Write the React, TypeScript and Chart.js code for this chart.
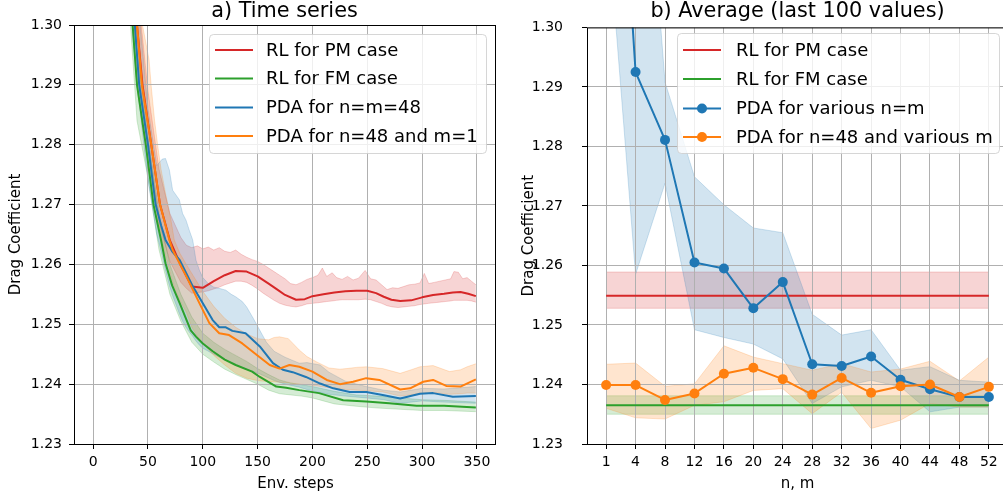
import React, { useEffect, useRef } from 'react';
import { Chart, registerables } from 'chart.js';
Chart.register(...registerables);

const FONT = "'DejaVu Sans', 'Liberation Sans', sans-serif";
const BLUE = '#1f77b4';
const ORANGE = '#ff7f0e';
const GREEN = '#2ca02c';
const RED = '#d62728';

// ---------------- a) Time series ----------------
const stepTicks = [0, 50, 100, 150, 200, 250, 300, 350];
const dragTicks = [1.23, 1.24, 1.25, 1.26, 1.27, 1.28, 1.29, 1.3];

const redSteps = [0, 10, 20, 30, 40, 45, 53, 61, 70, 80, 90, 100, 110, 120, 130, 140, 150, 160, 168, 175, 185, 193, 200, 210, 220, 230, 240, 250, 258, 265, 272, 280, 290, 300, 310, 320, 328, 335, 342, 349];
const redMean = [1.42, 1.39, 1.36, 1.33, 1.3, 1.29, 1.28, 1.27, 1.264, 1.2598, 1.2563, 1.2561, 1.2572, 1.2582, 1.2589, 1.2588, 1.258, 1.2568, 1.2558, 1.2549, 1.2541, 1.2542, 1.2547, 1.255, 1.2553, 1.2555, 1.2556, 1.2556, 1.2552, 1.2546, 1.2541, 1.2539, 1.254, 1.2545, 1.2549, 1.2551, 1.2553, 1.2554, 1.2551, 1.2547];

const greenSteps = [0, 10, 20, 30, 36, 40, 48, 55, 62, 66, 72, 79, 89, 94, 100, 109, 120, 130, 145, 152, 167, 176, 188, 206, 228, 249, 270, 295, 320, 349];
const greenMean = [1.4, 1.37, 1.345, 1.318, 1.3, 1.29, 1.28, 1.27, 1.264, 1.2602, 1.2565, 1.2535, 1.249, 1.2479, 1.2468, 1.2455, 1.2441, 1.2432, 1.2421, 1.2412, 1.2396, 1.2394, 1.239, 1.2385, 1.2373, 1.2371, 1.2368, 1.2364, 1.2364, 1.2361];

const blueSteps = [0, 10, 20, 30, 38, 42, 50, 57, 62, 66, 72, 79, 85, 91, 100, 109, 115, 121, 127, 139, 152, 164, 173, 182, 194, 207, 219, 234, 249, 264, 280, 298, 310, 328, 349];
const blueMean = [1.41, 1.38, 1.352, 1.322, 1.3, 1.29, 1.28, 1.27, 1.2665, 1.2641, 1.2622, 1.2607, 1.2585, 1.2563, 1.2535, 1.2507, 1.2495, 1.2495, 1.2489, 1.2485, 1.2463, 1.2435, 1.2424, 1.242, 1.2412, 1.2401, 1.2393, 1.2387, 1.2387, 1.2382, 1.2376, 1.2384, 1.2385, 1.2379, 1.238];

const orangeSteps = [0, 10, 20, 30, 40, 44.5, 53, 61, 69.5, 72.5, 85, 97, 106, 115, 124, 136, 149, 161, 170, 179, 188, 200, 213, 225, 237, 249, 261, 280, 289, 301, 310, 322, 335, 349];
const orangeMean = [1.42, 1.39, 1.36, 1.33, 1.3, 1.29, 1.28, 1.27, 1.2641, 1.2624, 1.258, 1.2535, 1.2502, 1.2485, 1.2482, 1.2468, 1.2449, 1.2432, 1.2426, 1.2432, 1.2429, 1.2421, 1.2407, 1.24, 1.2404, 1.241, 1.2407, 1.2391, 1.2393, 1.2404, 1.2407, 1.2397, 1.2396, 1.2408];

const redBandSteps = [0, 20, 30, 40, 50, 60, 70, 80, 85, 90, 95, 100, 105, 110, 115, 120, 125, 130, 135, 140, 145, 150, 155, 160, 165, 170, 175, 180, 185, 190, 195, 200, 205, 209, 213, 218, 222, 227, 232, 237, 242, 248, 253, 258, 263, 268, 273, 278, 283, 288, 293, 298, 302, 306, 311, 316, 321, 326, 329, 333, 337, 341, 345, 349];
const redUpper = [1.45, 1.375, 1.34, 1.307, 1.289, 1.276, 1.2685, 1.2645, 1.2632, 1.2628, 1.2631, 1.2626, 1.2629, 1.2624, 1.2628, 1.2622, 1.262, 1.2624, 1.2617, 1.2612, 1.2608, 1.2605, 1.26, 1.2594, 1.2588, 1.2582, 1.2576, 1.2568, 1.2566, 1.257, 1.2575, 1.2578, 1.2582, 1.2594, 1.258, 1.2586, 1.2578, 1.2575, 1.258, 1.2574, 1.2577, 1.259, 1.2576, 1.2574, 1.2566, 1.2558, 1.2561, 1.256, 1.2563, 1.2566, 1.2567, 1.2569, 1.2585, 1.2568, 1.257, 1.2572, 1.2574, 1.2576, 1.2588, 1.2587, 1.2576, 1.2578, 1.2572, 1.2566];
const redLower = [1.4, 1.345, 1.32, 1.294, 1.279, 1.267, 1.2605, 1.257, 1.256, 1.2552, 1.2553, 1.2554, 1.2556, 1.2559, 1.2562, 1.2566, 1.2569, 1.2572, 1.2572, 1.257, 1.2565, 1.2559, 1.2552, 1.2546, 1.254, 1.2535, 1.2532, 1.253, 1.2529, 1.2531, 1.2534, 1.2535, 1.2536, 1.2537, 1.2538, 1.2539, 1.254, 1.2541, 1.2541, 1.2541, 1.2541, 1.2542, 1.2541, 1.2538, 1.2535, 1.2531, 1.2529, 1.2528, 1.2529, 1.253, 1.2531, 1.2533, 1.2534, 1.2535, 1.2536, 1.2537, 1.2538, 1.2539, 1.254, 1.254, 1.254, 1.254, 1.2539, 1.2537];

const greenBandSteps = [0, 20, 30, 40, 50, 60, 70, 80, 90, 100, 110, 120, 130, 140, 150, 160, 170, 180, 190, 200, 220, 240, 260, 280, 300, 320, 349];
const greenUpper = [1.41, 1.355, 1.325, 1.296, 1.2815, 1.2685, 1.26, 1.255, 1.2512, 1.2485, 1.247, 1.2458, 1.2448, 1.2438, 1.2426, 1.2416, 1.2407, 1.2402, 1.2399, 1.2396, 1.2388, 1.2382, 1.238, 1.2377, 1.2374, 1.2373, 1.237];
const greenLower = [1.39, 1.335, 1.311, 1.284, 1.2745, 1.2625, 1.255, 1.2505, 1.247, 1.245, 1.2437, 1.2425, 1.2416, 1.2408, 1.24, 1.239, 1.2384, 1.2382, 1.238, 1.2377, 1.2367, 1.2363, 1.236, 1.2358, 1.2356, 1.2356, 1.2354];

const blueBandSteps = [0, 20, 30, 40, 50, 58, 63, 66, 69.5, 72.5, 78.6, 81.6, 84.7, 87.7, 90.8, 93.8, 97, 100, 105, 110, 115, 121, 126, 130, 136, 140, 146, 152, 158, 165, 175, 188, 195, 207, 215, 230, 249, 265, 280, 300, 320, 349];
const blueUpper = [1.43, 1.365, 1.332, 1.306, 1.286, 1.2765, 1.2776, 1.2777, 1.2758, 1.2724, 1.2708, 1.2685, 1.2674, 1.2657, 1.2641, 1.2607, 1.259, 1.2578, 1.2568, 1.2562, 1.256, 1.2557, 1.255, 1.2546, 1.2538, 1.2529, 1.251, 1.249, 1.247, 1.2455, 1.2445, 1.2435, 1.2436, 1.2432, 1.242, 1.2405, 1.2396, 1.239, 1.2387, 1.2393, 1.2392, 1.2396];
const blueLower = [1.39, 1.335, 1.312, 1.29, 1.274, 1.265, 1.2615, 1.259, 1.2565, 1.2548, 1.2518, 1.2505, 1.2495, 1.2487, 1.248, 1.2472, 1.2465, 1.246, 1.2455, 1.245, 1.2445, 1.244, 1.2436, 1.2432, 1.2428, 1.2425, 1.2421, 1.2417, 1.2412, 1.2406, 1.24, 1.2395, 1.2391, 1.2386, 1.2383, 1.238, 1.2377, 1.2374, 1.2368, 1.2372, 1.237, 1.2368];

const orangeBandSteps = [0, 20, 30, 40, 45, 51, 53, 56, 59, 62, 66, 71, 74, 79, 85, 90, 95, 100, 110, 120, 130, 140, 150, 160, 165, 170, 178, 188, 195, 204, 215, 225, 231, 240, 249, 264, 280, 290, 298, 310, 325, 335, 341, 349];
const orangeUpper = [1.44, 1.375, 1.345, 1.312, 1.3, 1.2942, 1.2897, 1.2841, 1.2797, 1.2758, 1.2719, 1.2674, 1.2641, 1.2619, 1.26, 1.2585, 1.257, 1.2555, 1.253, 1.251, 1.2495, 1.2484, 1.2476, 1.2474, 1.2478, 1.2479, 1.2476, 1.2457, 1.2446, 1.2437, 1.2427, 1.2425, 1.2426, 1.2428, 1.2429, 1.2426, 1.2418, 1.2424, 1.2429, 1.2431, 1.2421, 1.2424, 1.2429, 1.2434];
const orangeLower = [1.4, 1.345, 1.315, 1.29, 1.283, 1.276, 1.274, 1.2705, 1.2675, 1.265, 1.2615, 1.258, 1.2562, 1.254, 1.252, 1.2495, 1.248, 1.2468, 1.2448, 1.2432, 1.2418, 1.241, 1.2406, 1.2404, 1.2404, 1.2403, 1.2402, 1.24, 1.2399, 1.2397, 1.2394, 1.2392, 1.2391, 1.239, 1.2389, 1.2387, 1.238, 1.2382, 1.2385, 1.2386, 1.2383, 1.2384, 1.2385, 1.2385];

// ---------------- b) Average (last 100 values) ----------------
const nLabels = ['1', '4', '8', '12', '16', '20', '24', '28', '32', '36', '40', '44', '48', '52'];
const pdaNm = [1.37, 1.2925, 1.2811, 1.2605, 1.2595, 1.2528, 1.2572, 1.2434, 1.2431, 1.2447, 1.2408, 1.2392, 1.2379, 1.2379];
const pdaNmUpper = [1.42, 1.355, 1.2908, 1.2749, 1.2702, 1.2663, 1.2655, 1.2518, 1.2483, 1.2492, 1.2424, 1.243, 1.2407, 1.2404];
const pdaNmLower = [1.321, 1.2585, 1.2738, 1.2492, 1.2479, 1.2468, 1.2443, 1.2368, 1.2396, 1.2407, 1.2396, 1.2354, 1.2362, 1.2362];
const pdaM = [1.2399, 1.2399, 1.2374, 1.2385, 1.2418, 1.2428, 1.2409, 1.2383, 1.2411, 1.2386, 1.2397, 1.24, 1.2379, 1.2396];
const pdaMUpper = [1.2434, 1.2436, 1.2397, 1.2401, 1.2465, 1.2446, 1.2435, 1.2424, 1.2435, 1.2421, 1.2426, 1.2439, 1.2406, 1.2446];
const pdaMLower = [1.236, 1.2344, 1.2342, 1.2365, 1.2371, 1.239, 1.2393, 1.2351, 1.2387, 1.2326, 1.234, 1.2368, 1.2362, 1.2362];
const rlPmAvg = 1.2549;
const rlPmUpper = 1.2589;
const rlPmLower = 1.2528;
const rlFmAvg = 1.2365;
const rlFmUpper = 1.2381;
const rlFmLower = 1.235;

const legendA = ['RL for PM case', 'RL for FM case', 'PDA for n=m=48', 'PDA for n=48 and m=1'];
const legendB = ['RL for PM case', 'RL for FM case', 'PDA for various n=m', 'PDA for n=48 and various m'];

// ---------------- helpers ----------------
function hexA(hex: string, a: number) {
  const r = parseInt(hex.slice(1, 3), 16);
  const g = parseInt(hex.slice(3, 5), 16);
  const b = parseInt(hex.slice(5, 7), 16);
  return `rgba(${r},${g},${b},${a})`;
}
function pts(xs: number[], ys: number[]) {
  return xs.map((x, i) => ({ x, y: ys[i] }));
}
function band(xs: number[], up: number[], lo: number[], color: string, order: number) {
  const common = {
    borderColor: hexA(color, 0.2),
    backgroundColor: hexA(color, 0.2),
    borderWidth: 1,
    pointRadius: 0,
    pointHoverRadius: 0,
    order,
  };
  return [
    { ...common, data: pts(xs, up), fill: false },
    { ...common, data: pts(xs, lo), fill: '-1' },
  ];
}
function line(xs: number[], ys: number[], color: string, order: number, marker = false) {
  return {
    data: pts(xs, ys),
    borderColor: color,
    backgroundColor: color,
    borderWidth: 2,
    borderJoinStyle: 'round',
    pointRadius: marker ? 5 : 0,
    pointHoverRadius: marker ? 5 : 0,
    pointBackgroundColor: color,
    pointBorderColor: color,
    pointBorderWidth: 0,
    fill: false,
    order,
    isLine: true,
  };
}
const align = (p: number) => Math.round(p - 0.5) + 0.5;

type LegendSpec = {
  x: number; y: number; w: number; h: number;
  lx1: number; lx2: number; tx: number; rows: number[];
  labels: string[]; colors: string[]; markers: boolean[];
};
type DecorSpec = {
  title: string; xLabel: string; xLabelX: number; yLabel: string; yLabelX: number;
  xTicks: number[]; yTicks: number[]; legend: LegendSpec;
};

function drawGrid(chart: any, d: DecorSpec) {
  const { ctx, chartArea: ca } = chart;
  const xs = chart.scales.x;
  const ys = chart.scales.y;
  ctx.save();
  ctx.beginPath();
  ctx.rect(ca.left, ca.top, ca.right - ca.left, ca.bottom - ca.top);
  ctx.clip();
  ctx.strokeStyle = '#b0b0b0';
  ctx.lineWidth = 1;
  ctx.beginPath();
  d.xTicks.forEach((v) => {
    const p = align(xs.getPixelForValue(v));
    ctx.moveTo(p, ca.top);
    ctx.lineTo(p, ca.bottom);
  });
  d.yTicks.forEach((v) => {
    const p = align(ys.getPixelForValue(v));
    ctx.moveTo(ca.left, p);
    ctx.lineTo(ca.right, p);
  });
  ctx.stroke();
  ctx.restore();
}

function makeDecor(d: DecorSpec) {
  return {
    id: 'decor',
    beforeDatasetsDraw(chart: any) {
      chart.$gridDone = false;
    },
    beforeDatasetDraw(chart: any, args: any) {
      const ds = chart.data.datasets[args.index];
      if (ds.isLine && !chart.$gridDone) {
        drawGrid(chart, d);
        chart.$gridDone = true;
      }
    },
    afterDatasetsDraw(chart: any) {
      if (!chart.$gridDone) drawGrid(chart, d);
      const { ctx, chartArea: ca } = chart;
      ctx.save();
      ctx.strokeStyle = '#000';
      ctx.lineWidth = 1;
      ctx.strokeRect(ca.left + 0.5, ca.top + 0.5, ca.right - ca.left, ca.bottom - ca.top);
      ctx.restore();
    },
    afterDraw(chart: any) {
      const { ctx, chartArea: ca } = chart;
      ctx.save();
      ctx.fillStyle = '#000';
      // title
      ctx.font = `20.8px ${FONT}`;
      ctx.textAlign = 'center';
      ctx.textBaseline = 'alphabetic';
      ctx.fillText(d.title, (ca.left + ca.right) / 2, 17);
      // x label
      ctx.font = `15px ${FONT}`;
      ctx.fillText(d.xLabel, d.xLabelX, 487.5);
      // y label
      ctx.save();
      ctx.translate(d.yLabelX, (ca.top + ca.bottom) / 2);
      ctx.rotate(-Math.PI / 2);
      ctx.textAlign = 'center';
      ctx.textBaseline = 'alphabetic';
      ctx.fillText(d.yLabel, 0, 0);
      ctx.restore();
      // legend
      const L = d.legend;
      const r = 4;
      ctx.beginPath();
      ctx.moveTo(L.x + r, L.y);
      ctx.lineTo(L.x + L.w - r, L.y);
      ctx.arcTo(L.x + L.w, L.y, L.x + L.w, L.y + r, r);
      ctx.lineTo(L.x + L.w, L.y + L.h - r);
      ctx.arcTo(L.x + L.w, L.y + L.h, L.x + L.w - r, L.y + L.h, r);
      ctx.lineTo(L.x + r, L.y + L.h);
      ctx.arcTo(L.x, L.y + L.h, L.x, L.y + L.h - r, r);
      ctx.lineTo(L.x, L.y + r);
      ctx.arcTo(L.x, L.y, L.x + r, L.y, r);
      ctx.closePath();
      ctx.fillStyle = 'rgba(255,255,255,0.8)';
      ctx.fill();
      ctx.strokeStyle = 'rgba(204,204,204,0.8)';
      ctx.lineWidth = 1;
      ctx.stroke();
      ctx.font = `18px ${FONT}`;
      ctx.textAlign = 'left';
      ctx.textBaseline = 'middle';
      L.labels.forEach((lab, i) => {
        const y = L.rows[i];
        ctx.strokeStyle = L.colors[i];
        ctx.lineWidth = 2;
        ctx.beginPath();
        ctx.moveTo(L.lx1, y);
        ctx.lineTo(L.lx2, y);
        ctx.stroke();
        if (L.markers[i]) {
          ctx.fillStyle = L.colors[i];
          ctx.beginPath();
          ctx.arc((L.lx1 + L.lx2) / 2, y, 5, 0, Math.PI * 2);
          ctx.fill();
        }
        ctx.fillStyle = '#000';
        ctx.fillText(lab, L.tx, y + 1);
      });
      ctx.restore();
    },
  };
}

function scales(xMin: number, xMax: number, xTicks: number[], xFmt: (v: number) => string, yWidth: number, yPad: number) {
  const tickFont = { family: FONT, size: 14 };
  return {
    x: {
      type: 'linear',
      min: xMin,
      max: xMax,
      afterBuildTicks: (s: any) => { s.ticks = xTicks.map((v) => ({ value: v })); },
      afterFit: (s: any) => { s.height = 50; },
      grid: { drawOnChartArea: false, tickLength: 5, tickColor: '#000', tickWidth: 1 },
      border: { display: false },
      ticks: { font: tickFont, color: '#000', padding: 5, maxRotation: 0, autoSkip: false, callback: (v: any) => xFmt(Number(v)) },
    },
    y: {
      type: 'linear',
      min: 1.23,
      max: 1.3,
      afterBuildTicks: (s: any) => { s.ticks = dragTicks.map((v) => ({ value: v })); },
      afterFit: (s: any) => { s.width = yWidth; },
      grid: { drawOnChartArea: false, tickLength: 5, tickColor: '#000', tickWidth: 1 },
      border: { display: false },
      ticks: { font: tickFont, color: '#000', padding: yPad, autoSkip: false, callback: (v: any) => Number(v).toFixed(2) },
    },
  };
}

function leftConfig(): any {
  const datasets: any[] = [
    line(orangeSteps, orangeMean, ORANGE, 0),
    line(blueSteps, blueMean, BLUE, 1),
    line(greenSteps, greenMean, GREEN, 2),
    line(redSteps, redMean, RED, 3),
    ...band(orangeBandSteps, orangeUpper, orangeLower, ORANGE, 10),
    ...band(blueBandSteps, blueUpper, blueLower, BLUE, 11),
    ...band(greenBandSteps, greenUpper, greenLower, GREEN, 12),
    ...band(redBandSteps, redUpper, redLower, RED, 13),
  ];
  const decor = makeDecor({
    title: 'a) Time series',
    xLabel: 'Env. steps',
    xLabelX: 295.5,
    yLabel: 'Drag Coefficient',
    yLabelX: 19.5,
    xTicks: stepTicks,
    yTicks: dragTicks,
    legend: {
      x: 209.5, y: 34.5, w: 277, h: 119,
      lx1: 215, lx2: 253, tx: 266, rows: [50, 78.5, 107.5, 136],
      labels: legendA, colors: [RED, GREEN, BLUE, ORANGE], markers: [false, false, false, false],
    },
  });
  return {
    type: 'line',
    data: { datasets },
    options: {
      animation: false,
      responsive: false,
      maintainAspectRatio: false,
      events: [],
      layout: { padding: { top: 25, right: 5, left: 0, bottom: 0 } },
      plugins: { legend: { display: false }, tooltip: { enabled: false }, title: { display: false } },
      scales: scales(-17.45, 366.45, stepTicks, (v) => String(v), 74, 7),
    },
    plugins: [decor],
  };
}

function rightConfig(): any {
  const idx = nLabels.map((_, i) => i);
  const datasets: any[] = [
    line(idx, pdaM, ORANGE, 0, true),
    line(idx, pdaNm, BLUE, 1, true),
    line(idx, idx.map(() => rlFmAvg), GREEN, 2),
    line(idx, idx.map(() => rlPmAvg), RED, 3),
    ...band(idx, pdaMUpper, pdaMLower, ORANGE, 10),
    ...band(idx, pdaNmUpper, pdaNmLower, BLUE, 11),
    ...band(idx, idx.map(() => rlFmUpper), idx.map(() => rlFmLower), GREEN, 12),
    ...band(idx, idx.map(() => rlPmUpper), idx.map(() => rlPmLower), RED, 13),
  ];
  const decor = makeDecor({
    title: 'b) Average (last 100 values)',
    xLabel: 'n, m',
    xLabelX: 297.5,
    yLabel: 'Drag Coefficient',
    yLabelX: 32.5,
    xTicks: idx,
    yTicks: dragTicks,
    legend: {
      x: 177.5, y: 33.5, w: 322, h: 120,
      lx1: 183, lx2: 221, tx: 236, rows: [50, 79, 108.5, 137],
      labels: legendB, colors: [RED, GREEN, BLUE, ORANGE], markers: [false, false, true, true],
    },
  });
  return {
    type: 'line',
    data: { datasets },
    options: {
      animation: false,
      responsive: false,
      maintainAspectRatio: false,
      events: [],
      layout: { padding: { top: 25, right: 12, left: 0, bottom: 0 } },
      plugins: { legend: { display: false }, tooltip: { enabled: false }, title: { display: false } },
      scales: scales(-0.65, 13.65, idx, (v) => nLabels[Math.round(v)] ?? '', 87, 19),
    },
    plugins: [decor],
  };
}

export default function App() {
  const leftRef = useRef<HTMLCanvasElement>(null);
  const rightRef = useRef<HTMLCanvasElement>(null);
  useEffect(() => {
    const a = new Chart(leftRef.current as HTMLCanvasElement, leftConfig());
    const b = new Chart(rightRef.current as HTMLCanvasElement, rightConfig());
    return () => {
      a.destroy();
      b.destroy();
    };
  }, []);
  return (
    <div style={{ position: 'absolute', left: 0, top: 0, width: 1003, height: 494, overflow: 'hidden', background: '#fff' }}>
      <canvas ref={leftRef} width={500} height={494} style={{ position: 'absolute', left: 0, top: 0, width: 500, height: 494 }} />
      <canvas ref={rightRef} width={520} height={494} style={{ position: 'absolute', left: 500, top: 0, width: 520, height: 494 }} />
    </div>
  );
}
